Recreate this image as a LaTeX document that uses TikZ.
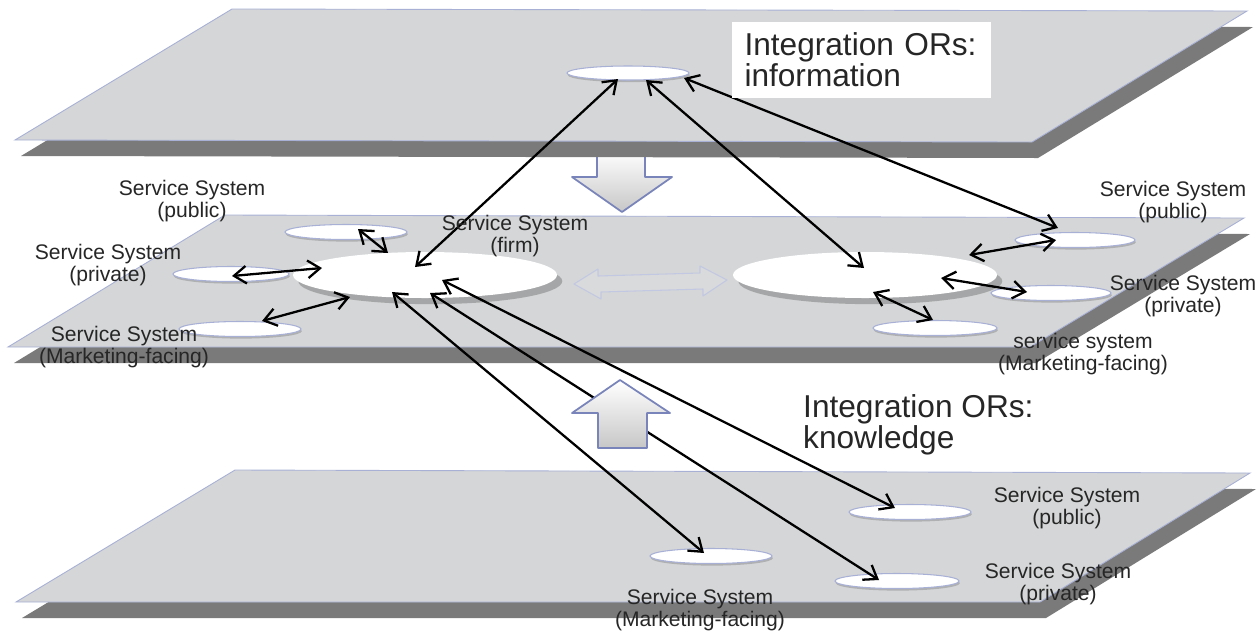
\documentclass[tikz,border=0pt]{standalone}
\usepackage{fontspec}
\setmainfont{Liberation Sans}
\usepackage{tikz}
\usetikzlibrary{shapes.geometric, arrows.meta, calc, shadows}
\definecolor{planeLight}{RGB}{212, 214, 215}
\definecolor{planeDark}{RGB}{122, 122, 122}
\definecolor{edgeBlue}{RGB}{168, 176, 214}
\definecolor{textGray}{RGB}{38, 38, 38}
\definecolor{fatEdge}{RGB}{120, 132, 186}
\newcommand{\pu}{0.02cm}

\begin{document}
\begin{tikzpicture}[x=0.02cm, y=-0.02cm,
      plane/.style={fill=planeLight, draw=edgeBlue, line width=0.5pt},
      planeshadow/.style={fill=planeDark},
      sys/.style={ellipse, fill=white, draw=edgeBlue, line width=0.6pt, inner sep=0pt, minimum width=122*\pu, minimum height=15*\pu,
        drop shadow={shadow xshift=0.5pt, shadow yshift=-1.2pt, fill=black!45, opacity=0.5}},
      hub/.style={ellipse, fill=white, draw=none, inner sep=0pt, minimum width=264*\pu, minimum height=46*\pu,
        drop shadow={shadow xshift=3pt, shadow yshift=-3.5pt, fill=black!50, opacity=0.55}},
      lbl/.style={align=center, font=\fontsize{12}{13}\selectfont, text=textGray, inner sep=0pt},
      big/.style={align=left, font=\fontsize{18}{17.6}\selectfont, text=textGray},
      link/.style={{Straight Barb[length=7pt,width=10pt]}-{Straight Barb[length=7pt,width=10pt]}, line width=1.3pt, black},
      fat/.style={top color=white, bottom color=black!22, draw=fatEdge, line width=1pt, line join=round},
      ghost/.style={draw=edgeBlue!70!white, line width=0.6pt, fill=white, fill opacity=0.12, line join=round}]

  \useasboundingbox[fill=white] (0,0) rectangle (1257,633);

  % fat arrow down from the information layer
  \draw[fat] (597,150) -- (645,150) -- (645,177) -- (672,177) -- (622,212) -- (572,177) -- (597,177) -- cycle;

  % three layers
  \fill[planeshadow] (238,25) -- (1253,27) -- (1038,158) -- (21,156) -- cycle;
  \draw[plane] (232,9) -- (1247,11) -- (1032,142) -- (15,140) -- cycle;
  \fill[planeshadow] (231,231) -- (1250,234) -- (1036,363) -- (14,363) -- cycle;
  \draw[plane] (225,215) -- (1244,218) -- (1030,347) -- (8,347) -- cycle;
  \fill[planeshadow] (241,486) -- (1256,489) -- (1046,618) -- (22,618) -- cycle;
  \draw[plane] (235,470) -- (1250,473) -- (1040,602) -- (16,602) -- cycle;

  % service systems
  \node[sys, minimum height=14*\pu] (info) at (628,73) {};
  \node[hub] (firm) at (425,275) {};
  \node[hub] (peer) at (865,275) {};
  \node[sys] (mPub) at (346,232) {};
  \node[sys, minimum width=116*\pu] (mPriv) at (231,274) {};
  \node[sys] (mMkt) at (240,329) {};
  \node[sys, minimum width=120*\pu] (rPub) at (1075,240) {};
  \node[sys, minimum width=120*\pu] (rPriv) at (1051,293) {};
  \node[sys, minimum width=124*\pu] (rMkt) at (935,328) {};
  \node[sys] (bPub) at (910,512) {};
  \node[sys, minimum width=124*\pu] (bPriv) at (897,581) {};
  \node[sys] (bMkt) at (711,556) {};

  % faint exchange between the two hubs
  \draw[ghost] (574,284) -- (598,269) -- (598,276) -- (700,273) -- (700,266) -- (727,280)
    -- (703,296) -- (703,289) -- (601,292) -- (601,299) -- cycle;

  % information links
  \draw[link] ($(info)+(-10,6)$) -- ($(firm)+(-10,-8)$);
  \draw[link] ($(info)+(18,7)$) -- ($(peer)+(-1,-7)$);
  \draw[link] ($(info)+(56,5)$) -- ($(rPub)+(-17,-12)$);

  % links on the middle layer
  \draw[link] ($(mPub)+(12,-3)$) -- ($(firm)+(-37,-22)$);
  \draw[link] ($(mPriv)+(1,2)$) -- ($(firm)+(-103,-7)$);
  \draw[link] ($(mMkt)+(22,-8)$) -- ($(firm)+(-75,22)$);
  \draw[link] ($(peer)+(104,-20)$) -- ($(rPub)+(-19,0)$);
  \draw[link] ($(peer)+(76,3)$) -- ($(rPriv)+(-24,-1)$);
  \draw[link] ($(peer)+(8,17)$) -- ($(rMkt)+(-2,-8)$);

  % knowledge links
  \draw[link] ($(firm)+(-33,17)$) -- ($(bMkt)+(-7,-3)$);
  \draw[link] ($(firm)+(5,18)$) -- ($(bPriv)+(-18,-1)$);
  \draw[link] ($(firm)+(17,5)$) -- ($(bPub)+(-15,-4)$);

  % fat arrow up from the knowledge layer
  \draw[fat] (598,448) -- (647,448) -- (647,413) -- (670,413) -- (620,380) -- (572,413) -- (598,413) -- cycle;

  % labels
  \node[lbl] (lPubL) at (192,201) {Service System\\(public)};
  \node[lbl] (lPrivL) at (108,265) {Service System\\(private)};
  \node[lbl] (lMktL) at (124,347) {Service System\\(Marketing-facing)};
  \node[lbl] (lFirm) at (515,236) {Service System\\(firm)};
  \node[lbl] (lPubR) at (1173,202) {Service System\\(public)};
  \node[lbl] (lPrivR) at (1183,296) {Service System\\(private)};
  \node[lbl] (lMktR) at (1083,354) {service system\\(Marketing-facing)};
  \node[lbl] (lPubB) at (1067,508) {Service System\\(public)};
  \node[lbl] (lPrivB) at (1058,584) {Service System\\(private)};
  \node[lbl] (lMktB) at (700,610) {Service System\\(Marketing-facing)};

  \node[big, fill=white, inner xsep=13*\pu, text width=233*\pu, minimum height=76*\pu] (infoTxt) at (861,60) {Integration ORs:\\information};
  \node[big, anchor=west] (knowTxt) at (797,425) {Integration ORs:\\knowledge};
\end{tikzpicture}
\end{document}
